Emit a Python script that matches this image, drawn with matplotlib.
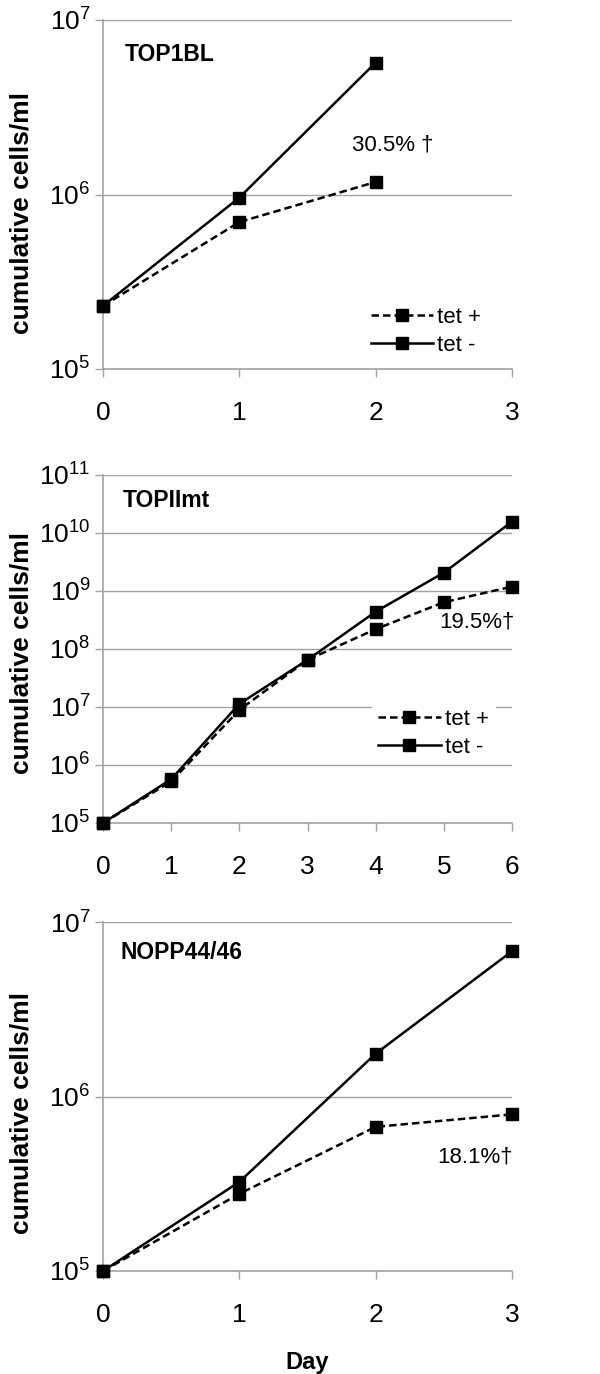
import matplotlib
matplotlib.use('Agg')
import matplotlib.pyplot as plt
from matplotlib.ticker import LogLocator, NullLocator

plt.rcParams['font.family'] = ['Liberation Sans', 'DejaVu Sans']
plt.rcParams['mathtext.fontset'] = 'custom'
plt.rcParams['mathtext.rm'] = 'Liberation Sans'
plt.rcParams['mathtext.default'] = 'regular'

# panel data (cumulative cells/ml per day)
days_a = [0, 1, 2]
top1bl_tet_plus = [2.3e5, 6.95e5, 1.18e6]
top1bl_tet_minus = [2.3e5, 9.6e5, 5.7e6]

days_b = [0, 1, 2, 3, 4, 5, 6]
top2mt_tet_plus = [1e5, 5.2e5, 8.9e6, 6.5e7, 2.2e8, 6.4e8, 1.19e9]
top2mt_tet_minus = [1e5, 5.7e5, 1.13e7, 6.5e7, 4.4e8, 2.07e9, 1.57e10]

days_c = [0, 1, 2, 3]
nopp_tet_plus = [1e5, 2.77e5, 6.7e5, 7.9e5]
nopp_tet_minus = [1e5, 3.24e5, 1.76e6, 6.8e6]

names = ['TOP1BL', 'TOPIImt', 'NOPP44/46']
notes = ['30.5% †', '19.5%†', '18.1%†']
xmax = [3, 6, 3]
ymax = [1e7, 1e11, 1e7]

W, H = 600, 1374
fig = plt.figure(figsize=(W / 100, H / 100), dpi=100)

grey = '#a3a3a3'

def px_axes(top, bottom, left=103, right=512):
    return fig.add_axes([left / W, 1 - bottom / H, (right - left) / W, (bottom - top) / H])

axes = [px_axes(20, 369), px_axes(475, 823), px_axes(922, 1271)]
data = [(days_a, top1bl_tet_plus, top1bl_tet_minus),
        (days_b, top2mt_tet_plus, top2mt_tet_minus),
        (days_c, nopp_tet_plus, nopp_tet_minus)]

name_pos = [(0.054, 0.902), (0.049, 0.928), (0.042, 0.912)]
note_pos = [(0.709, 0.642), (0.914, 0.578), (0.91, 0.327)]
label_y = [0.447, 0.489, 0.453]
leg_anchor = [(0.638, 0.198), (0.657, 0.348), None]

for i, ax in enumerate(axes):
    d, plus, minus = data[i]
    ax.plot(d, plus, color='black', lw=1.8, ls=(0, (3, 1.6)), marker='s',
            markersize=9.3, label='tet +', clip_on=False, zorder=3)
    ax.plot(d, minus, color='black', lw=1.8, ls='-', marker='s',
            markersize=9.3, label='tet -', clip_on=False, zorder=4)
    ax.set_yscale('log')
    ax.set_ylim(1e5, ymax[i])
    ax.set_xlim(0, xmax[i])
    ax.set_xticks(range(0, xmax[i] + 1))
    ax.yaxis.set_major_locator(LogLocator(base=10, numticks=20))
    ax.yaxis.set_minor_locator(NullLocator())
    ax.grid(axis='y', color=grey, lw=1.0)
    ax.set_axisbelow(True)
    for s in ['top', 'right']:
        ax.spines[s].set_visible(False)
    for s in ['left', 'bottom']:
        ax.spines[s].set_color(grey)
        ax.spines[s].set_linewidth(1.2)
    ax.tick_params(axis='x', direction='out', length=6, color=grey, width=1.0,
                   labelsize=19, pad=17)
    ax.tick_params(axis='y', direction='out', length=6, color=grey, width=1.0,
                   labelsize=19, pad=3)
    ax.set_ylabel('cumulative cells/ml', fontsize=19, fontweight='bold')
    ax.yaxis.set_label_coords(-0.17, label_y[i])
    ax.text(name_pos[i][0], name_pos[i][1], names[i], transform=ax.transAxes,
            fontsize=16.5, fontweight='bold', ha='left', va='center')
    ax.text(note_pos[i][0], note_pos[i][1], notes[i], transform=ax.transAxes,
            fontsize=16, ha='center', va='center')
    if leg_anchor[i] is not None:
        leg = ax.legend(loc='upper left', bbox_to_anchor=leg_anchor[i],
                        fontsize=16, frameon=True, fancybox=False,
                        edgecolor='none', facecolor='white', framealpha=1,
                        handlelength=2.8, handletextpad=0.2, labelspacing=0.32,
                        borderpad=0.3, borderaxespad=0)

axes[2].set_xlabel('Day', fontsize=17, fontweight='bold', labelpad=17)

fig.savefig('out.png', dpi=100)
